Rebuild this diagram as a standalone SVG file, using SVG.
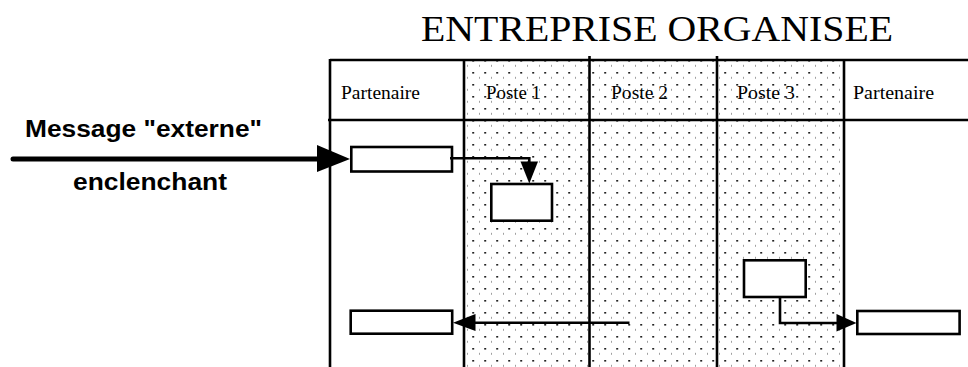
<svg xmlns="http://www.w3.org/2000/svg" width="968" height="367" viewBox="0 0 968 367">
<style>
.grid{stroke:#000;stroke-width:2.6;fill:none}
.box{fill:#fff;stroke:#000;stroke-width:2.6}
.conn{stroke:#000;stroke-width:2.6;fill:none}
.hdr{font-family:"Liberation Serif","Times New Roman",serif;font-size:19px;fill:#000}
.lbl{font-family:"Liberation Sans",Arial,sans-serif;font-weight:bold;font-size:23px;fill:#000}
.title{font-family:"Liberation Serif","Times New Roman",serif;font-size:36px;fill:#000}
</style>
<defs>
<pattern id="dots" patternUnits="userSpaceOnUse" x="0" y="0" width="12" height="12">
<rect x="4.2" y="0" width="2" height="1.6" fill="#222"/>
<rect x="11.2" y="4.8" width="1.2" height="2" fill="#888"/>
</pattern>
</defs>
<rect width="968" height="367" fill="#fff"/>
<text class="title" x="421" y="41" textLength="472" lengthAdjust="spacingAndGlyphs">ENTREPRISE ORGANISEE</text>
<g id="lanes">
<rect x="464" y="60" width="380" height="307" fill="url(#dots)"/>
<line class="grid" x1="330" y1="60" x2="968" y2="60"/>
<line class="grid" x1="328" y1="120" x2="968" y2="120"/>
<line class="grid" x1="330" y1="59" x2="330" y2="367"/>
<line class="grid" x1="464" y1="59" x2="464" y2="367"/>
<line class="grid" x1="589.5" y1="56" x2="589.5" y2="367"/>
<line class="grid" x1="717" y1="56" x2="717" y2="367"/>
<line class="grid" x1="844" y1="59" x2="844" y2="367"/>
<text class="hdr" x="341" y="99" textLength="79" lengthAdjust="spacingAndGlyphs">Partenaire</text>
<text class="hdr" x="486" y="99" textLength="55" lengthAdjust="spacingAndGlyphs">Poste 1</text>
<text class="hdr" x="611" y="99" textLength="57" lengthAdjust="spacingAndGlyphs">Poste 2</text>
<text class="hdr" x="737" y="99" textLength="58" lengthAdjust="spacingAndGlyphs">Poste 3</text>
<text class="hdr" x="853" y="99" textLength="81" lengthAdjust="spacingAndGlyphs">Partenaire</text>
</g>
<g id="label">
<text class="lbl" x="25" y="137" textLength="237" lengthAdjust="spacingAndGlyphs">Message "externe"</text>
<text class="lbl" x="73" y="190" textLength="154" lengthAdjust="spacingAndGlyphs">enclenchant</text>
</g>
<g id="n1"><rect class="box" x="351.3" y="147" width="100.7" height="24.5"/></g>
<g id="n2"><rect class="box" x="491.3" y="184" width="60.7" height="36.7"/></g>
<g id="n3"><rect class="box" x="744" y="260.3" width="61.7" height="36.7"/></g>
<g id="n4"><rect class="box" x="857.3" y="311" width="102.3" height="23"/></g>
<g id="n5"><rect class="box" x="350.7" y="310.7" width="101.5" height="23"/></g>
<g id="connectors">
<line x1="13" y1="159" x2="320" y2="159" stroke="#000" stroke-width="5" stroke-linecap="round"/>
<polygon points="317,145 350,159 317,172" fill="#000"/>
<polyline class="conn" points="450,158.3 529.3,158.3 529.3,164"/>
<polygon points="520.5,161.5 538,161.5 529.3,183.5" fill="#000"/>
<polyline class="conn" points="780,297 780,323 840,323"/>
<polygon points="836.5,314 856.5,323 836.5,331.5" fill="#000"/>
<line class="conn" x1="629.5" y1="322.7" x2="470" y2="322.7"/>
<polygon points="475.5,314 453,322.7 475.5,331" fill="#000"/>
</g>
</svg>
